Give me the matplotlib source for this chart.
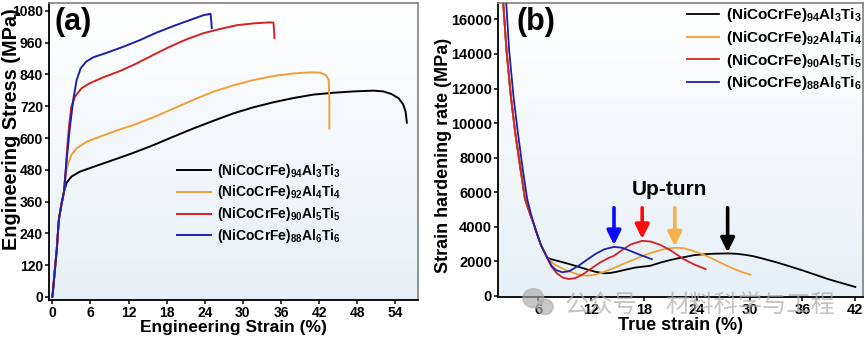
import numpy as np
import matplotlib
matplotlib.use("Agg")
import matplotlib.pyplot as plt
from matplotlib.patches import Ellipse, ArrowStyle

plt.rcParams['font.family'] = ['Liberation Sans', 'DejaVu Sans']
plt.rcParams['font.weight'] = 'bold'
plt.rcParams['mathtext.fontset'] = 'custom'
plt.rcParams['mathtext.rm'] = 'Liberation Sans:bold'
plt.rcParams['mathtext.bf'] = 'Liberation Sans:bold'
plt.rcParams['mathtext.it'] = 'Liberation Sans:bold'
plt.rcParams['mathtext.default'] = 'bf'

# ---------------- data ----------------
alloys = [r'(NiCoCrFe)$_{94}$Al$_{3}$Ti$_{3}$',
          r'(NiCoCrFe)$_{92}$Al$_{4}$Ti$_{4}$',
          r'(NiCoCrFe)$_{90}$Al$_{5}$Ti$_{5}$',
          r'(NiCoCrFe)$_{88}$Al$_{6}$Ti$_{6}$']
colors = ['#000000', '#f0a035', '#d42222', '#1f1fae']

# (a) engineering stress-strain curves (strain %, stress MPa)
elastic_strain = [0.0, 0.1, 0.4, 0.7, 1.0, 1.1, 1.47, 1.84]
elastic_stress = [0, 20, 100, 177, 282, 302, 353, 397]

strain_a1 = elastic_strain + [2.26, 3.0, 4.36, 6.46, 9.6, 12.76, 15.9, 19.05, 22.2, 25.35, 28.5,
                              31.65, 34.8, 37.95, 41.1, 44.25, 47.4, 50.55, 52.1, 53.4, 54.5,
                              55.2, 55.6, 55.8]
stress_a1 = elastic_stress + [431, 454, 473, 491, 517, 544, 573, 605, 636, 665, 693,
                              716, 735, 751, 764, 771, 776, 779, 776, 766, 750,
                              728, 699, 658]

strain_a2 = elastic_strain + [2.15, 2.5, 3.0, 3.83, 5.4, 7.5, 10.1, 12.76, 15.9, 19.05, 22.2,
                              25.35, 28.5, 31.65, 34.8, 37.95, 40.6, 42.15, 43.1, 43.5, 43.6,
                              43.6]
stress_a2 = elastic_stress + [466, 504, 536, 561, 586, 605, 628, 649, 678, 711, 744,
                              775, 799, 819, 834, 844, 848, 847, 837, 819, 744,
                              636]

strain_a3 = elastic_strain + [2.15, 2.4, 2.68, 3.0, 3.57, 4.6, 5.9, 8.0, 10.65, 13.3, 15.9,
                              18.5, 21.15, 23.8, 26.4, 29.0, 31.65, 34.3, 34.8, 34.9, 34.96]
stress_a3 = elastic_stress + [491, 580, 655, 718, 756, 788, 807, 829, 853, 882, 914,
                              945, 973, 996, 1012, 1026, 1033, 1037, 1036, 1008, 977]

strain_a4 = elastic_strain + [2.26, 2.78, 3.3, 3.83, 4.46, 5.3, 6.46, 8.56, 11.2, 13.8, 16.4,
                              19.05, 21.7, 23.8, 24.9, 25.0, 25.1]
stress_a4 = elastic_stress + [517, 643, 744, 819, 863, 888, 905, 922, 945, 970, 998,
                              1023, 1046, 1064, 1069, 1046, 1015]

# (b) strain hardening rate vs true strain (%, MPa)
drop_strain = [1.95, 2.4, 2.9, 3.4, 4.0, 4.5, 5.1, 5.5, 6.26, 7.0]
drop_rate = [17500, 14200, 11500, 9400, 7300, 5600, 4700, 4150, 3000, 2230]

strain_b1 = drop_strain + [7.5, 8.5, 9.5, 10.5, 11.5, 12.5, 13.45, 14.2, 15.0, 16.0, 17.0,
                           18.75, 20.0, 21.0, 22.0, 23.7, 25.0, 26.0, 27.6, 28.5, 29.5,
                           30.5, 31.5, 33.1, 34.5, 36.0, 37.5, 39.0, 40.5, 42.0]
rate_b1 = drop_rate + [2120, 1990, 1850, 1700, 1540, 1400, 1310, 1330, 1410, 1530, 1640,
                       1750, 1950, 2080, 2190, 2360, 2420, 2445, 2460, 2440, 2380,
                       2290, 2160, 1940, 1720, 1480, 1220, 960, 740, 520]

strain_b2 = drop_strain + [7.6, 8.5, 9.5, 10.5, 11.56, 12.5, 13.5, 14.5, 15.5, 16.5, 17.5,
                           18.5, 19.5, 20.5, 21.6, 22.5, 23.5, 24.8, 26.0, 27.0, 28.0,
                           29.0, 30.1]
rate_b2 = drop_rate + [1900, 1650, 1420, 1250, 1170, 1230, 1400, 1600, 1820, 2030, 2240,
                       2440, 2600, 2730, 2790, 2760, 2620, 2380, 2100, 1850, 1610,
                       1410, 1230]

strain_b3 = drop_strain + [7.5, 8.1, 8.8, 9.48, 10.2, 11.0, 12.0, 13.0, 14.0, 14.6, 15.5,
                           16.5, 17.8, 18.75, 19.8, 21.0, 22.5, 23.8, 25.0]
rate_b3 = drop_rate + [1700, 1320, 1060, 980, 1030, 1230, 1580, 1930, 2200, 2320, 2650,
                       2980, 3190, 3150, 2970, 2650, 2130, 1800, 1556]

strain_b4 = [2.3, 2.7, 3.2, 3.7, 4.25, 4.75, 5.25, 5.75, 6.35, 7.0, 7.5, 8.0, 8.73, 9.5,
             10.5, 11.5, 12.5, 13.5, 14.6, 15.5, 16.5, 17.5, 18.3, 18.9]
rate_b4 = [17500, 14200, 11500, 9400, 7300, 5600, 4600, 3750, 2900, 2230, 1750, 1500, 1370, 1430,
           1720, 2080, 2430, 2700, 2840, 2790, 2600, 2390, 2240, 2130]

# up-turn markers (strain %, arrow start and tip in MPa)
upturn_x = [14.6, 17.8, 21.5, 27.5]
upturn_tip = [2950, 3300, 2870, 2520]
upturn_top = 5100
arrow_colors = ['#0a0aff', '#ff0a0a', '#f7b048', '#000000']

xticks_a = list(range(0, 55, 6))
yticks_a = list(range(0, 1081, 120))
xticks_b = list(range(6, 43, 6))
yticks_b = list(range(0, 16001, 2000))

# ---------------- drawing ----------------
fig = plt.figure(figsize=(8.65, 3.38), dpi=100)
ax1 = fig.add_axes([0.057, 0.1124, 0.4266, 0.8787])
ax2 = fig.add_axes([0.576, 0.1213, 0.422, 0.870])


def shade(ax):
    g = np.linspace(0, 1, 256)[:, None, None]
    top = np.array([1.0, 1.0, 1.0])
    bot = np.array([0.905, 0.94, 0.965])
    img = top + (bot - top) * g
    ax.imshow(img, extent=[0, 1, 0, 1], transform=ax.transAxes,
              aspect='auto', zorder=0, origin='upper')


def style(ax):
    for s in ['left', 'bottom']:
        ax.spines[s].set_color('black')
        ax.spines[s].set_linewidth(1.3)
    for s in ['top', 'right']:
        ax.spines[s].set_color('#808080')
        ax.spines[s].set_linewidth(1.2)
    ax.tick_params(direction='out', length=3, width=1.1, pad=1.5)


def place_ylabel(ax, x, y):
    ax.yaxis.label.set_horizontalalignment('center')
    ax.yaxis.label.set_verticalalignment('center')
    ax.yaxis.label.set_rotation_mode('default')
    ax.yaxis.set_label_coords(x, y)


shade(ax1)
shade(ax2)

curves_a = [(strain_a1, stress_a1), (strain_a2, stress_a2),
            (strain_a3, stress_a3), (strain_a4, stress_a4)]
for (x, y), c, lab in zip(curves_a, colors, alloys):
    ax1.plot(x, y, color=c, lw=1.4, label=lab, zorder=3)

ax1.set_xlim(-0.47, 57.6)
ax1.set_ylim(-12, 1110)
ax1.set_xticks(xticks_a)
ax1.set_yticks(yticks_a)
style(ax1)
ax1.tick_params(labelsize=10)
ax1.set_xlabel('Engineering Strain (%)', fontsize=12.5, fontweight='bold', labelpad=0)
ax1.set_ylabel('Engineering Stress (MPa)', fontsize=14.3, fontweight='bold')
place_ylabel(ax1, -0.103, 0.576)
ax1.text(0.015, 0.985, '(a)', transform=ax1.transAxes, fontsize=22, fontweight='bold',
         va='top', ha='left')
ax1.legend(loc='upper left', bbox_to_anchor=(0.345, 0.466), frameon=False, fontsize=10,
           handlelength=2.5, handletextpad=0.4, labelspacing=0.28, borderpad=0,
           borderaxespad=0)

curves_b = [(strain_b1, rate_b1), (strain_b2, rate_b2),
            (strain_b3, rate_b3), (strain_b4, rate_b4)]
for (x, y), c, lab in zip(curves_b, colors, alloys):
    ax2.plot(x, y, color=c, lw=1.3, label=lab, zorder=3)

head = ArrowStyle('-|>', head_length=0.65, head_width=0.32)
for x, tip, c in zip(upturn_x, upturn_tip, arrow_colors):
    ax2.annotate('', xy=(x, tip), xytext=(x, upturn_top),
                 arrowprops=dict(arrowstyle=head, color=c, lw=2.6, mutation_scale=13,
                                 shrinkA=0, shrinkB=0), zorder=4)
ax2.text(20.9, 6130, 'Up-turn', fontsize=15, fontweight='bold', ha='center', va='center')

ax2.set_xlim(1.46, 42.9)
ax2.set_ylim(-60, 16950)
ax2.set_xticks(xticks_b)
ax2.set_yticks(yticks_b)
style(ax2)
ax2.tick_params(labelsize=10.5)
ax2.set_xlabel('True strain (%)', fontsize=13, fontweight='bold', labelpad=0)
ax2.set_ylabel('Strain hardening rate (MPa)', fontsize=13, fontweight='bold')
place_ylabel(ax2, -0.150, 0.483)
ax2.text(0.05, 0.985, '(b)', transform=ax2.transAxes, fontsize=22, fontweight='bold',
         va='top', ha='left')
ax2.legend(loc='upper left', bbox_to_anchor=(0.516, 0.988), frameon=False, fontsize=11,
           handlelength=2.15, handletextpad=0.4, labelspacing=0.3, borderpad=0,
           borderaxespad=0)

# account watermark
wm_color = '#ababab'
fig.add_artist(Ellipse((0.6165, 0.118), 0.024, 0.056, transform=fig.transFigure,
                       color=wm_color, alpha=0.65, zorder=10))
fig.add_artist(Ellipse((0.630, 0.092), 0.019, 0.045, transform=fig.transFigure,
                       color=wm_color, alpha=0.65, zorder=10))
fig.text(0.653, 0.097, '公众号', fontsize=17.5, color=wm_color, alpha=0.7,
         family=['Noto Sans CJK SC', 'DejaVu Sans'], fontweight='normal',
         va='center', ha='left', zorder=10)
fig.text(0.769, 0.097, '材料科学与工程', fontsize=17.5, color=wm_color, alpha=0.7,
         family=['Noto Sans CJK SC', 'DejaVu Sans'], fontweight='normal',
         va='center', ha='left', zorder=10)

fig.savefig('out.png', dpi=100)
